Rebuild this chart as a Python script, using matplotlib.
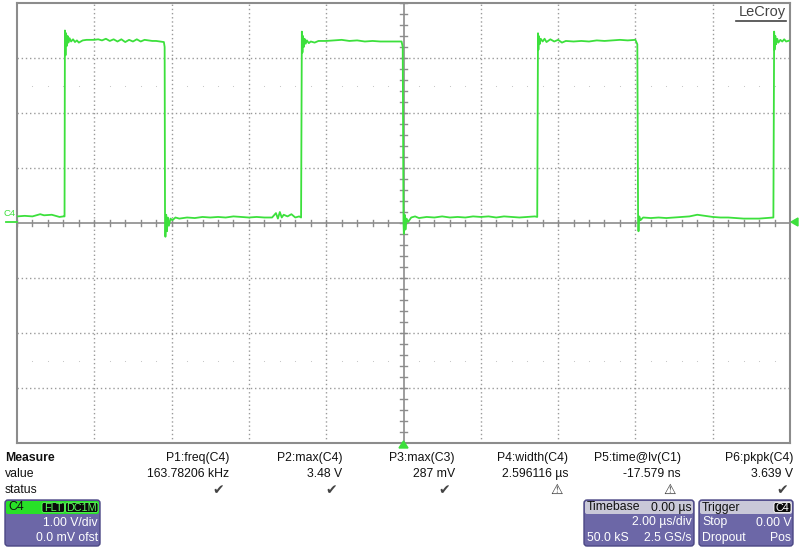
import matplotlib
matplotlib.use("Agg")
import matplotlib.pyplot as plt
from matplotlib.patches import FancyBboxPatch, Polygon
import numpy as np

# ---------------- data ----------------
t_us = [
    -10.0, -9.8, -9.6, -9.4, -9.3, -9.1, -9.0, -8.9, -8.8, -8.77,
    -8.76, -8.745, -8.73, -8.71, -8.69, -8.67, -8.64, -8.60, -8.55, -8.50, -8.45, -8.40,
    -8.30, -8.2, -8.0, -7.9, -7.8, -7.7, -7.6, -7.5, -7.4, -7.3, -7.2, -7.1, -7.0, -6.9,
    -6.8, -6.7, -6.6, -6.5, -6.4, -6.3, -6.2, -6.18,
    -6.17, -6.16, -6.14, -6.12, -6.10, -6.07, -6.03, -5.98, -5.9, -5.8, -5.6, -5.4, -5.2,
    -5.0, -4.8, -4.6, -4.4, -4.2, -4.0, -3.8, -3.6, -3.4, -3.3, -3.25, -3.2, -3.15, -3.1,
    -3.0, -2.9, -2.8, -2.7, -2.65,
    -2.63, -2.615, -2.60, -2.58, -2.56, -2.53, -2.50, -2.45, -2.4, -2.3, -2.2, -2.0, -1.8,
    -1.6, -1.4, -1.2, -1.0, -0.8, -0.6, -0.4, -0.2, -0.05, -0.02,
    0.0, 0.01, 0.03, 0.05, 0.08, 0.12, 0.2, 0.3, 0.4, 0.6, 0.8, 1.0, 1.2, 1.4, 1.6, 1.8,
    2.0, 2.2, 2.4, 2.6, 2.8, 3.0, 3.2, 3.4, 3.46,
    3.48, 3.49, 3.50, 3.52, 3.55, 3.60, 3.65, 3.7, 3.8, 3.9, 4.0, 4.1, 4.2, 4.4, 4.6, 4.8,
    5.0, 5.2, 5.4, 5.6, 5.8, 6.0, 6.05,
    6.07, 6.08, 6.10, 6.13, 6.2, 6.4, 6.6, 6.8, 7.0, 7.2, 7.4, 7.6, 7.8, 8.0, 8.2, 8.4,
    8.6, 8.8, 9.0, 9.2, 9.4, 9.57,
    9.59, 9.60, 9.62, 9.64, 9.67, 9.70, 9.75, 9.8, 9.85, 9.9, 10.0,
]
v_volts = [
    0.12, 0.13, 0.12, 0.16, 0.14, 0.15, 0.13, 0.11, 0.12, 0.12,
    3.50, 3.05, 3.45, 3.22, 3.40, 3.28, 3.36, 3.30, 3.34, 3.29, 3.32, 3.28,
    3.32, 3.33, 3.33, 3.34, 3.32, 3.35, 3.31, 3.34, 3.30, 3.34, 3.29, 3.33, 3.30, 3.34,
    3.30, 3.33, 3.32, 3.31, 3.31, 3.30, 3.29, 3.20,
    0.0, -0.25, 0.15, -0.15, 0.10, -0.05, 0.08, 0.05, 0.10, 0.08, 0.10, 0.09, 0.11,
    0.10, 0.11, 0.10, 0.12, 0.11, 0.10, 0.11, 0.10, 0.10, 0.18, 0.08, 0.20, 0.10, 0.15,
    0.12, 0.16, 0.10, 0.12, 0.10,
    3.48, 3.10, 3.40, 3.20, 3.35, 3.26, 3.32, 3.27, 3.30, 3.28, 3.31, 3.31, 3.32,
    3.33, 3.31, 3.32, 3.30, 3.31, 3.30, 3.30, 3.30, 3.30, 3.20,
    0.0, -0.20, 0.15, -0.12, 0.08, 0.02, 0.10, 0.12, 0.09, 0.11, 0.10, 0.12, 0.10, 0.11,
    0.10, 0.12, 0.11, 0.12, 0.10, 0.12, 0.11, 0.10, 0.11, 0.12, 0.11,
    3.45, 3.15, 3.40, 3.25, 3.35, 3.30, 3.35, 3.29, 3.34, 3.30, 3.33, 3.28, 3.31, 3.30,
    3.31, 3.30, 3.32, 3.31, 3.32, 3.33, 3.32, 3.33, 3.25,
    0.0, -0.15, 0.12, 0.05, 0.10, 0.09, 0.10, 0.09, 0.10, 0.11, 0.12, 0.15, 0.13, 0.11,
    0.10, 0.10, 0.09, 0.08, 0.08, 0.08, 0.09, 0.10,
    3.48, 3.15, 3.40, 3.25, 3.35, 3.28, 3.33, 3.30, 3.34, 3.30, 3.32,
]

measure_names = ["P1:freq(C4)", "P2:max(C4)", "P3:max(C3)", "P4:width(C4)",
                 "P5:time@lv(C1)", "P6:pkpk(C4)"]
measure_values = ["163.78206 kHz", "3.48 V", "287 mV", "2.596116 \u00b5s",
                  "-17.579 ns", "3.639 V"]
measure_status = ["ok", "ok", "ok", "warn", "warn", "ok"]

# ---------------- figure ----------------
W, H = 800, 547
fig = plt.figure(figsize=(W / 100, H / 100), dpi=100)
fig.patch.set_facecolor("white")

GREEN = "#3ce03c"
GRID = "#9a9a9a"
AXC = "#8c8c8c"

L, R, T, B = 17, 790, 3, 443
ax = fig.add_axes([L / W, (H - B) / H, (R - L) / W, (B - T) / H])
ax.set_xlim(-10, 10)
ax.set_ylim(-4, 4)
ax.set_xticks([])
ax.set_yticks([])
for s in ax.spines.values():
    s.set_color(AXC)
    s.set_linewidth(1.5)

for xv in [-8, -6, -4, -2, 2, 4, 6, 8]:
    ax.axvline(xv, color=GRID, lw=1.0, ls=(0, (1, 2)), zorder=1)
for yv in [-3, -2, -1, 1, 2, 3]:
    ax.axhline(yv, color=GRID, lw=1.0, ls=(0, (1, 2)), zorder=1)
ax.axvline(0, color=AXC, lw=1.2, zorder=1)
ax.axhline(0, color=AXC, lw=1.2, zorder=1)

# minor ticks on centre lines
xt = np.arange(-10, 10.001, 0.4)
for x in xt:
    ax.plot([x, x], [-0.06, 0.06], color=AXC, lw=1.0, zorder=1)
yt = np.arange(-4, 4.001, 0.2)
for y in yt:
    ax.plot([-0.08, 0.08], [y, y], color=AXC, lw=1.0, zorder=1)

# faint dot rows
for yv in [2.5, -2.5]:
    xs = [x for x in xt if abs(x / 2 - round(x / 2)) > 0.01]
    ax.scatter(xs, [yv] * len(xs), s=0.6, color="#c0c0c0", zorder=1, linewidths=0)

ax.plot(t_us, v_volts, color=GREEN, lw=1.3, zorder=3, clip_on=True)

# ---------------- overlay in pixel coordinates ----------------
ov = fig.add_axes([0, 0, 1, 1], zorder=5)
ov.set_xlim(0, W)
ov.set_ylim(H, 0)
ov.axis("off")
ov.patch.set_alpha(0)

FONT = ["Liberation Sans", "DejaVu Sans"]
FS = 8.8

# LeCroy logo
ov.text(786, 12, "LeCroy", ha="right", va="center", fontsize=10.5, color="#444444",
        family=FONT)
ov.plot([736, 786], [21, 21], color="#444444", lw=1.2)

# channel marker left
ov.text(4, 214, "C4", ha="left", va="center", fontsize=6.8, color=GREEN, family=FONT)
ov.plot([6, 17], [221.5, 221.5], color=GREEN, lw=1.3)
# trigger level marker right
ov.add_patch(Polygon([[791, 222], [798, 218], [798, 226]], closed=True, color=GREEN))
# trigger position marker bottom
ov.add_patch(Polygon([[403.5, 441], [399, 448], [408, 448]], closed=True, color=GREEN))

# measure table
ov.text(5, 458, "Measure", ha="left", va="center", fontsize=FS, fontweight="bold",
        color="#111111", family=FONT)
ov.text(5, 474, "value", ha="left", va="center", fontsize=FS, color="#111111", family=FONT)
ov.text(5, 490, "status", ha="left", va="center", fontsize=FS, color="#111111", family=FONT)
col_right = [229, 342, 455, 568, 681, 793]
for xr, name, val, st in zip(col_right, measure_names, measure_values, measure_status):
    ov.text(xr, 458, name, ha="right", va="center", fontsize=FS, color="#111111", family=FONT)
    ov.text(xr, 474, val, ha="right", va="center", fontsize=FS, color="#111111", family=FONT)
    if st == "ok":
        ov.text(xr - 5, 490, "\u2714", ha="right", va="center", fontsize=10,
                color="#444444", family=["DejaVu Sans"])
    else:
        ov.text(xr - 5, 490, "\u26a0", ha="right", va="center", fontsize=10,
                color="#333333", fontweight="bold", family=["DejaVu Sans"])

PURPLE = "#6c67a7"
PEDGE = "#4b4784"
HEAD = "#c9c8d8"


def panel(x0, x1, head_color):
    ov.add_patch(FancyBboxPatch((x0, 500), x1 - x0, 46,
                                boxstyle="round,pad=0,rounding_size=3",
                                fc=PURPLE, ec=PEDGE, lw=1.0))
    ov.add_patch(FancyBboxPatch((x0 + 1, 501), x1 - x0 - 2, 13,
                                boxstyle="round,pad=0,rounding_size=2",
                                fc=head_color, ec="none"))


def black_tag(x0, x1, txt, color):
    ov.add_patch(FancyBboxPatch((x0, 502.5), x1 - x0, 10,
                                boxstyle="round,pad=0,rounding_size=2",
                                fc="#0a0a0a", ec=color, lw=0.6))
    ov.text((x0 + x1) / 2, 507.8, txt, ha="center", va="center", fontsize=7.8,
            color=color, family=FONT)


# C4 panel
panel(5, 100, "#28e028")
ov.text(8, 507.5, "C4", ha="left", va="center", fontsize=FS, color="#111111", family=FONT)
black_tag(42, 64.5, "FLT", "#5cff5c")
black_tag(65.5, 98, "DC1M", "#5cff5c")
ov.text(98, 522.5, "1.00 V/div", ha="right", va="center", fontsize=FS, color="white", family=FONT)
ov.text(98, 538, "0.0 mV ofst", ha="right", va="center", fontsize=FS, color="white", family=FONT)

# Timebase panel
panel(584, 694, HEAD)
ov.text(587, 507.5, "Timebase", ha="left", va="center", fontsize=FS, color="#111111", family=FONT)
ov.text(692, 507.5, "0.00 \u00b5s", ha="right", va="center", fontsize=FS, color="#111111", family=FONT)
ov.text(692, 522.5, "2.00 \u00b5s/div", ha="right", va="center", fontsize=FS, color="white", family=FONT)
ov.text(587, 538, "50.0 kS", ha="left", va="center", fontsize=FS, color="white", family=FONT)
ov.text(692, 538, "2.5 GS/s", ha="right", va="center", fontsize=FS, color="white", family=FONT)

# Trigger panel
panel(699, 793, HEAD)
ov.text(702, 507.5, "Trigger", ha="left", va="center", fontsize=FS, color="#111111", family=FONT)
black_tag(774, 791, "C4", "white")
ov.text(702, 522.5, "Stop", ha="left", va="center", fontsize=FS, color="white", family=FONT)
ov.text(791, 522.5, "0.00 V", ha="right", va="center", fontsize=FS, color="white", family=FONT)
ov.text(702, 538, "Dropout", ha="left", va="center", fontsize=FS, color="white", family=FONT)
ov.text(791, 538, "Pos", ha="right", va="center", fontsize=FS, color="white", family=FONT)

fig.savefig("out.png", dpi=100, facecolor="white")
